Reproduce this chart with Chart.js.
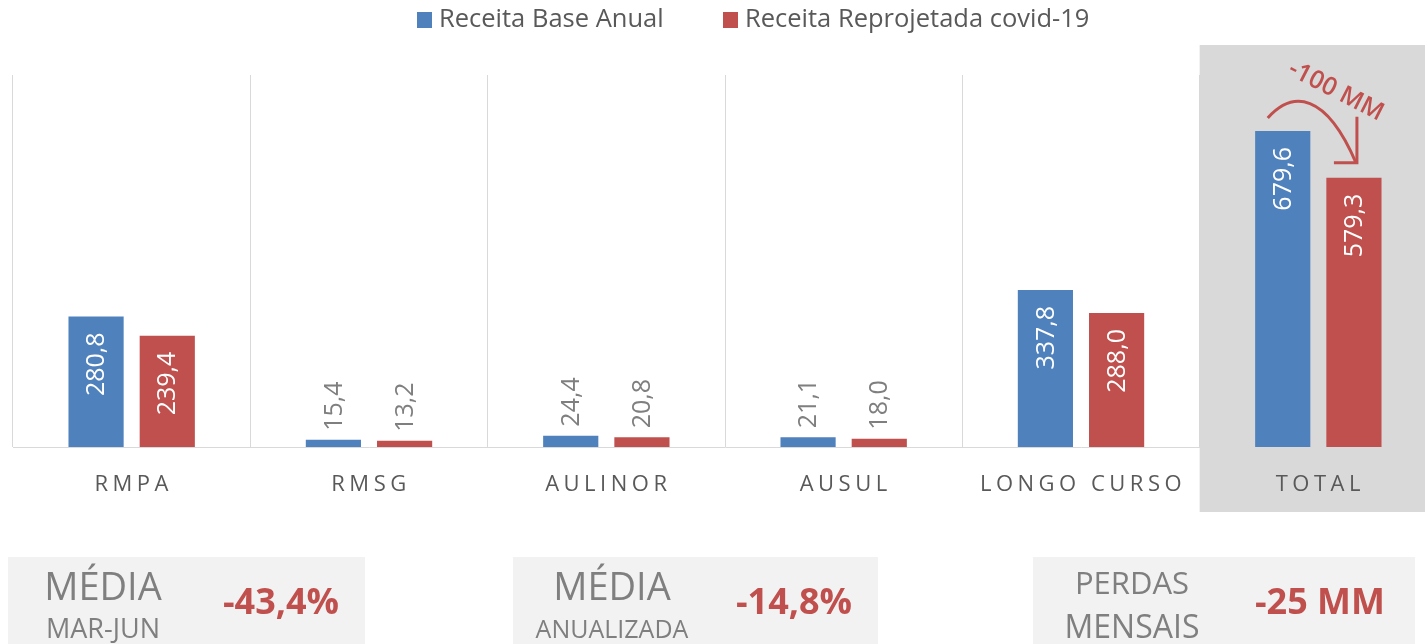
<!DOCTYPE html>
<html>
<head>
<meta charset="utf-8">
<script src="https://cdn.jsdelivr.net/npm/chart.js@4/dist/chart.umd.min.js"></script>
<style>
    body { margin: 0; width: 1425px; height: 644px; overflow: hidden; background: #fff; position: relative; font-family: 'Open Sans', sans-serif; }
    #wrap { position: absolute; left: 0; top: 0; width: 1437px; height: 644px; }
    .box { position: absolute; top: 557px; height: 87px; background: #f2f2f2; }
    .txt { position: absolute; width: 300px; text-align: center; line-height: 1; white-space: nowrap; }
    .gray { color: #7f7f7f; }
    .red { color: #c0504d; font-weight: 700; }
</style>
</head>
<body>
<div id="wrap"><canvas id="myChart" width="1437" height="644"></canvas></div>
<div id="boxes"></div>
<script>
const categories = ['RMPA', 'RMSG', 'AULINOR', 'AUSUL', 'LONGO CURSO', 'TOTAL'];
const receitaBase = [280.8, 15.4, 24.4, 21.1, 337.8, 679.6];
const receitaCovid = [239.4, 13.2, 20.8, 18.0, 288.0, 579.3];
const seriesNames = ['Receita Base Anual', 'Receita Reprojetada covid-19'];
const seriesColors = ['#4f81bd', '#c0504d'];
const arrowLabel = '-100 MM';

const boxTitles = ['MÉDIA', 'MÉDIA', 'PERDAS'];
const boxSubtitles = ['MAR-JUN', 'ANUALIZADA', 'MENSAIS'];
const boxValues = ['-43,4%', '-14,8%', '-25 MM'];

// layout of the summary boxes
const boxLayout = [
    { left: 8, width: 357, labelX: 103, valueX: 281, t: [38, 566], s: [27, 614] },
    { left: 513, width: 365, labelX: 612, valueX: 794, t: [38, 566], s: [25, 616] },
    { left: 1033, width: 382, labelX: 1132, valueX: 1320, t: [31, 567], s: [32, 610] },
];

const boxes = document.getElementById('boxes');
boxLayout.forEach((b, i) => {
    boxes.insertAdjacentHTML('beforeend',
        `<div class="box" style="left:${b.left}px;width:${b.width}px"></div>` +
        `<div class="txt gray" style="left:${b.labelX - 150}px;top:${b.t[1]}px;font-size:${b.t[0]}px">${boxTitles[i]}</div>` +
        `<div class="txt gray" style="left:${b.labelX - 150}px;top:${b.s[1]}px;font-size:${b.s[0]}px">${boxSubtitles[i]}</div>` +
        `<div class="txt red" style="left:${b.valueX - 150}px;top:583px;font-size:36px">${boxValues[i]}</div>`);
});

const fmt = (v) => v.toFixed(1).replace('.', ',');

const extras = {
    id: 'extras',
    beforeDatasetsDraw(chart) {
        const { ctx, scales: { x } } = chart;
        const w = x.width / categories.length;
        const cx = x.getPixelForValue(categories.length - 1);
        ctx.save();
        ctx.fillStyle = '#d9d9d9';
        ctx.fillRect(cx - w / 2, 45, w + 2, 467);
        ctx.restore();
    },
    afterDatasetsDraw(chart) {
        const { ctx, scales: { x } } = chart;
        ctx.save();
        // value labels, rotated
        ctx.font = '25px "Open Sans"';
        ctx.textBaseline = 'middle';
        chart.data.datasets.forEach((ds, di) => {
            chart.getDatasetMeta(di).data.forEach((bar, i) => {
                const v = ds.data[i];
                const inside = v > 100;
                ctx.save();
                ctx.translate(bar.x, inside ? bar.y + 16 : bar.y - 9);
                ctx.rotate(-Math.PI / 2);
                ctx.fillStyle = inside ? '#ffffff' : '#7f7f7f';
                ctx.textAlign = inside ? 'right' : 'left';
                ctx.fillText(fmt(v), 0, 1);
                ctx.restore();
            });
        });

        // category labels
        ctx.font = '22px "Open Sans"';
        ctx.fillStyle = '#595959';
        ctx.textAlign = 'center';
        ctx.letterSpacing = '4.5px';
        categories.forEach((c, i) => {
            ctx.fillText(c, x.getPixelForValue(i) + 2, 485);
        });
        ctx.letterSpacing = '0px';

        // legend
        ctx.font = '25.5px "Open Sans"';
        ctx.textAlign = 'left';
        const legendX = [417, 723];
        seriesNames.forEach((n, i) => {
            ctx.fillStyle = seriesColors[i];
            ctx.fillRect(legendX[i], 12, 15, 16);
            ctx.fillStyle = '#595959';
            ctx.fillText(n, legendX[i] + 22, 20);
        });

        // arrow between total bars
        const b0 = chart.getDatasetMeta(0).data[categories.length - 1];
        const b1 = chart.getDatasetMeta(1).data[categories.length - 1];
        const sx = b0.x - 15, sy = b0.y - 13;
        const ex = b1.x + 2, ey = b1.y - 15;
        ctx.strokeStyle = '#c0504d';
        ctx.lineWidth = 3;
        ctx.beginPath();
        ctx.moveTo(sx, sy);
        ctx.bezierCurveTo(sx + 25, sy - 28, ex - 30, ey - 70, ex, ey);
        ctx.stroke();
        ctx.beginPath();
        ctx.moveTo(ex + 1, ey - 46);
        ctx.lineTo(ex + 1, ey);
        ctx.lineTo(ex - 22, ey);
        ctx.stroke();

        ctx.translate(1336, 91);
        ctx.rotate(27 * Math.PI / 180);
        ctx.font = '600 25px "Open Sans"';
        ctx.fillStyle = '#c0504d';
        ctx.textAlign = 'center';
        ctx.fillText(arrowLabel, 0, 0);
        ctx.restore();
    },
};

const data = {
    labels: categories,
    datasets: [
        { label: seriesNames[0], data: receitaBase, backgroundColor: seriesColors[0] },
        { label: seriesNames[1], data: receitaCovid, backgroundColor: seriesColors[1] },
    ],
};

const config = {
    type: 'bar',
    data,
    options: {
        responsive: false,
        animation: false,
        events: [],
        layout: { padding: { left: 13, right: 0, top: 75, bottom: 197 } },
        plugins: { legend: { display: false }, tooltip: { enabled: false } },
        datasets: { bar: { categoryPercentage: 0.6, barPercentage: 0.775 } },
        scales: {
            x: {
                grid: { color: '#d9d9d9', lineWidth: 1, drawTicks: false, offset: true },
                border: { color: '#d9d9d9' },
                ticks: { display: false },
            },
            y: { display: false, min: 0, max: 800 },
        },
    },
    plugins: [extras],
};

const myChart = new Chart(document.getElementById('myChart'), config);
</script>
</body>
</html>
